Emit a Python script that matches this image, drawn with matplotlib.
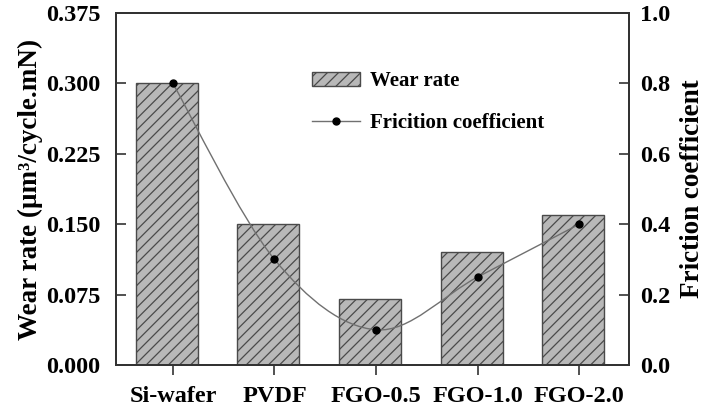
import matplotlib.pyplot as plt
import numpy as np
from matplotlib.path import Path
from matplotlib.patches import PathPatch, Patch
from matplotlib.lines import Line2D

plt.rcParams['font.family'] = ['Liberation Serif', 'DejaVu Serif']
plt.rcParams['font.weight'] = 'bold'
plt.rcParams['hatch.color'] = '#555555'
plt.rcParams['hatch.linewidth'] = 0.9

samples = ["Si-wafer", "PVDF", "FGO-0.5", "FGO-1.0", "FGO-2.0"]
wear_rate = [0.300, 0.150, 0.070, 0.120, 0.160]
friction = [0.80, 0.30, 0.10, 0.25, 0.40]

fig = plt.figure(figsize=(7.13, 4.11), dpi=100)
ax1 = fig.add_axes([0.1627, 0.1119, 0.7195, 0.8564])
x = np.arange(len(samples))

ax1.bar(x - 0.06, wear_rate, width=0.61, color='#b8b8b8', edgecolor='#4a4a4a',
        hatch='///', linewidth=1.0)
ax1.set_xlim(-0.56, 4.49)
ax1.set_ylim(0, 0.375)
ax1.set_yticks([0.0, 0.075, 0.15, 0.225, 0.3, 0.375])
ax1.set_yticklabels(['0.000', '0.075', '0.150', '0.225', '0.300', '0.375'])
ax1.set_xticks(x)
ax1.set_xticklabels(samples)
ax1.tick_params(axis='y', direction='in', length=7, width=1.2, labelsize=17.5, pad=11,
                color='#333333')
ax1.tick_params(axis='x', direction='out', length=7, width=1.2, labelsize=17.5, pad=8,
                color='#333333')
ax1.set_ylabel('Wear rate (\u03bcm\u00b3/cycle.mN)', fontsize=19.5, fontweight='bold',
               labelpad=2)
for s in ax1.spines.values():
    s.set_linewidth(1.4)
    s.set_color('#333333')

ax2 = ax1.twinx()
ax2.set_ylim(0, 1.0)
ax2.set_yticks([0.0, 0.2, 0.4, 0.6, 0.8, 1.0])
ax2.tick_params(axis='y', direction='in', length=7, width=1.2, labelsize=17.5, pad=8,
                color='#333333')
ax2.set_ylabel('Friction coefficient', fontsize=19.5, fontweight='bold', labelpad=7)
for s in ax2.spines.values():
    s.set_linewidth(1.4)
    s.set_color('#333333')

# smooth curve through friction points (Catmull-Rom -> cubic Bezier)
pts = np.column_stack([x, friction]).astype(float)
verts = [pts[0]]
codes = [Path.MOVETO]
for i in range(len(pts) - 1):
    p0 = pts[i - 1] if i > 0 else pts[i]
    p1, p2 = pts[i], pts[i + 1]
    p3 = pts[i + 2] if i + 2 < len(pts) else pts[i + 1]
    c1 = p1 + (p2 - p0) / 6
    c2 = p2 - (p3 - p1) / 6
    verts += [c1, c2, p2]
    codes += [Path.CURVE4] * 3
ax2.add_patch(PathPatch(Path(verts, codes), facecolor='none',
                        edgecolor='#707070', linewidth=1.0))
ax2.plot(x, friction, 'o', color='black', markersize=5)

handles = [Patch(facecolor='#b8b8b8', edgecolor='#4a4a4a', hatch='///'),
           Line2D([0], [0], color='#707070', lw=1.0, marker='o', markersize=5,
                  markerfacecolor='black', markeredgecolor='black')]
fig.legend(handles, ['Wear rate', 'Fricition coefficient'], loc='upper left',
           bbox_to_anchor=(0.4376, 0.827), frameon=False, fontsize=15,
           handlelength=2.3, handletextpad=0.5, labelspacing=1.05,
           borderpad=0, borderaxespad=0)

fig.savefig('out.png', dpi=100)
